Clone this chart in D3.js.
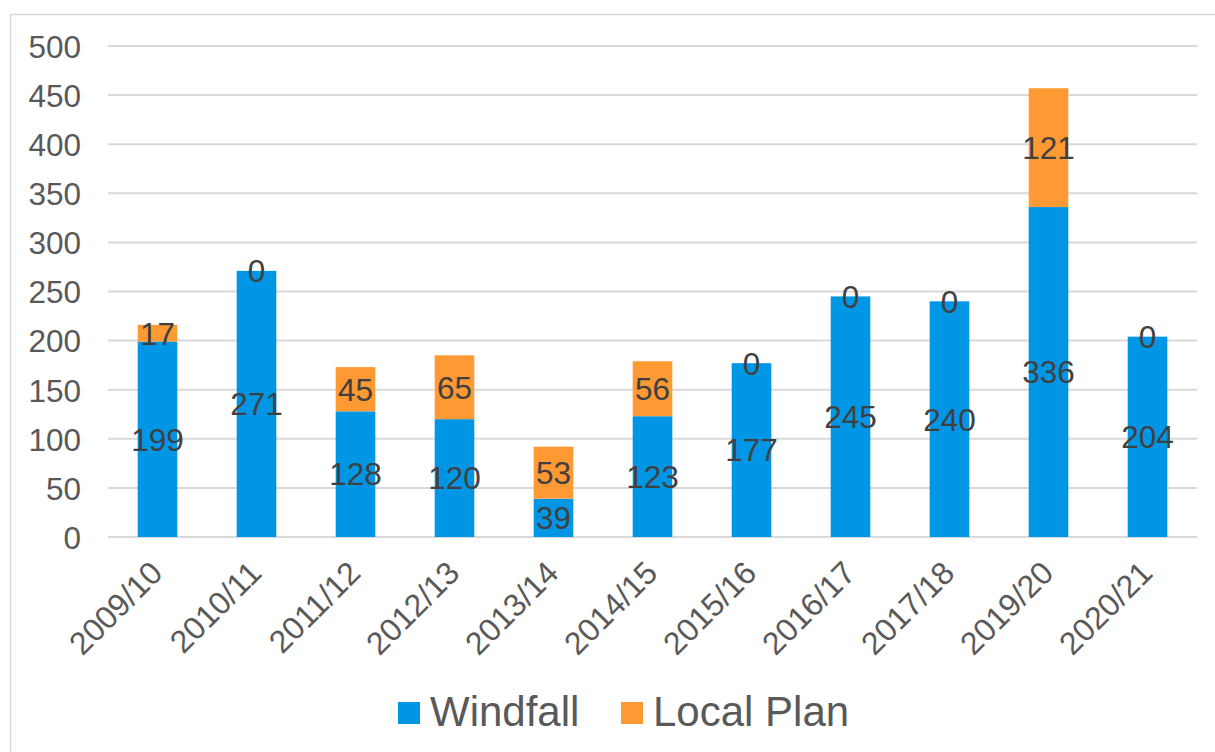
<!DOCTYPE html>
<html>
<head>
<meta charset="utf-8">
<script src="https://cdn.jsdelivr.net/npm/d3@7"></script>
<style>
  body { margin: 0; background: #fff; }
  svg text { font-family: "Liberation Sans", Arial, sans-serif; }
</style>
</head>
<body>
<svg id="vis" width="1215" height="752"></svg>
<script>
// chart data
var years = ["2009/10", "2010/11", "2011/12", "2012/13", "2013/14", "2014/15",
             "2015/16", "2016/17", "2017/18", "2019/20", "2020/21"];
var windfall  = [199, 271, 128, 120, 39, 123, 177, 245, 240, 336, 204];
var localPlan = [17, 0, 45, 65, 53, 56, 0, 0, 0, 121, 0];
var seriesNames = ["Windfall", "Local Plan"];
var yTicks = [0, 50, 100, 150, 200, 250, 300, 350, 400, 450, 500];

var svg = d3.select("#vis"),
    width = +svg.attr("width"),
    height = +svg.attr("height");

var color = d3.scaleOrdinal().domain(seriesNames).range(["#0096e6", "#ff9933"]);

// outer frame (right and bottom edges fall outside the picture)
svg.append("rect")
    .attr("x", 10.5).attr("y", 14.5)
    .attr("width", width + 20).attr("height", height + 20)
    .attr("fill", "none")
    .attr("stroke", "#d9d9d9")
    .attr("stroke-width", 1.5);

var plotLeft = 108, plotRight = 1197, plotTop = 46, plotBottom = 537;

var x = d3.scaleBand().domain(years).range([plotLeft, plotRight]).paddingInner(0.6).paddingOuter(0.3);
var y = d3.scaleLinear().domain([0, 500]).range([plotBottom, plotTop]);

// gridlines
svg.append("g")
    .selectAll("line")
    .data(yTicks)
    .enter().append("line")
      .attr("x1", plotLeft).attr("x2", plotRight)
      .attr("y1", function(d) { return y(d); })
      .attr("y2", function(d) { return y(d); })
      .attr("stroke", "#d9d9d9")
      .attr("stroke-width", 2);

// y axis labels
var yAxis = svg.append("g")
    .attr("transform", "translate(" + (plotLeft - 27) + ",0)")
    .call(d3.axisLeft(y).tickValues(yTicks).tickSize(0).tickPadding(0));
yAxis.select(".domain").remove();
yAxis.selectAll("text")
    .attr("fill", "#595959")
    .attr("font-size", 31.5)
    .attr("dy", "0.36em");

// stacked bars
var rows = years.map(function(yr, i) {
  return { year: yr, "Windfall": windfall[i], "Local Plan": localPlan[i] };
});
var stack = d3.stack().keys(seriesNames)(rows);

var layer = svg.append("g")
    .selectAll("g")
    .data(stack)
    .enter().append("g")
      .attr("fill", function(d) { return color(d.key); });

layer.selectAll("rect")
    .data(function(d) { return d; })
    .enter().append("rect")
      .attr("x", function(d) { return x(d.data.year); })
      .attr("width", x.bandwidth())
      .attr("y", function(d) { return y(d[1]); })
      .attr("height", function(d) { return y(d[0]) - y(d[1]); });

// data labels
var labels = svg.append("g");
stack.forEach(function(s) {
  labels.selectAll(null)
    .data(s)
    .enter().append("text")
      .attr("x", function(d) { return x(d.data.year) + x.bandwidth() / 2; })
      .attr("y", function(d) { return y((d[0] + d[1]) / 2); })
      .attr("dy", "0.36em")
      .attr("text-anchor", "middle")
      .attr("font-size", 31.5)
      .attr("fill", "#404040")
      .text(function(d) { return d.data[s.key]; });
});

// x axis labels
var xAxis = svg.append("g")
    .attr("transform", "translate(0," + (plotBottom + 22) + ")")
    .call(d3.axisBottom(x).tickSize(0).tickPadding(0));
xAxis.select(".domain").remove();
xAxis.selectAll("text")
    .attr("fill", "#595959")
    .attr("font-size", 32)
    .attr("text-anchor", "end")
    .attr("dy", "0.7em")
    .attr("transform", "translate(-9,0) rotate(-45)");

// legend
var legendPos = [398, 621];
var legend = svg.append("g")
    .selectAll("g")
    .data(seriesNames)
    .enter().append("g")
      .attr("transform", function(d, i) { return "translate(" + legendPos[i] + ",702)"; });
legend.append("rect")
    .attr("width", 22).attr("height", 22)
    .attr("fill", function(d) { return color(d); });
legend.append("text")
    .attr("x", 32).attr("y", 24)
    .attr("font-size", 42)
    .attr("fill", "#595959")
    .text(function(d) { return d; });
</script>
</body>
</html>
